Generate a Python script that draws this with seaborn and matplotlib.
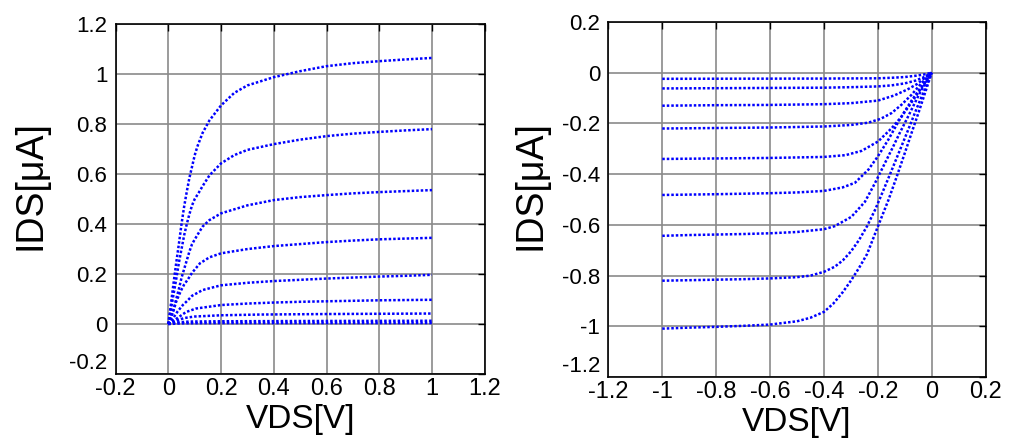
import numpy as np
import pandas as pd
import seaborn as sns
import matplotlib.pyplot as plt

# NMOS output curves (left panel), VDS [V] / IDS [uA]
n1_vds = [0, 0.01, 0.02, 0.03, 0.04, 0.05, 0.06, 0.07, 0.08, 0.09, 0.1, 0.11, 0.13, 0.156, 0.2, 0.25, 0.3, 0.4, 0.5, 0.6, 0.7, 0.8, 0.9, 1.0]
n1_ids = [0, 0.08, 0.165, 0.245, 0.32, 0.40, 0.47, 0.53, 0.585, 0.63, 0.675, 0.71, 0.765, 0.815, 0.875, 0.925, 0.955, 0.988, 1.012, 1.032, 1.044, 1.052, 1.059, 1.065]
n2_vds = [0, 0.01, 0.02, 0.03, 0.04, 0.05, 0.06, 0.07, 0.08, 0.09, 0.1, 0.115, 0.13, 0.156, 0.2, 0.25, 0.3, 0.4, 0.5, 0.6, 0.7, 0.8, 0.9, 1.0]
n2_ids = [0, 0.06, 0.12, 0.18, 0.245, 0.30, 0.355, 0.40, 0.44, 0.475, 0.50, 0.525, 0.552, 0.595, 0.643, 0.676, 0.697, 0.72, 0.738, 0.752, 0.762, 0.769, 0.775, 0.78]
n3_vds = [0, 0.01, 0.02, 0.03, 0.04, 0.05, 0.06, 0.07, 0.08, 0.09, 0.11, 0.13, 0.156, 0.2, 0.3, 0.4, 0.5, 0.6, 0.7, 0.8, 0.9, 1.0]
n3_ids = [0, 0.025, 0.06, 0.1, 0.14, 0.185, 0.22, 0.255, 0.29, 0.32, 0.356, 0.39, 0.416, 0.443, 0.475, 0.496, 0.508, 0.516, 0.523, 0.528, 0.532, 0.536]
n4_vds = [0, 0.01, 0.02, 0.03, 0.04, 0.05, 0.06, 0.075, 0.09, 0.12, 0.156, 0.2, 0.3, 0.4, 0.5, 0.6, 0.7, 0.8, 0.9, 1.0]
n4_ids = [0, 0.025, 0.055, 0.09, 0.115, 0.138, 0.158, 0.18, 0.205, 0.243, 0.267, 0.283, 0.30, 0.312, 0.32, 0.328, 0.334, 0.339, 0.342, 0.345]
n5_vds = [0, 0.01, 0.02, 0.035, 0.055, 0.075, 0.09, 0.13, 0.2, 0.3, 0.4, 0.5, 0.6, 0.7, 0.8, 0.9, 1.0]
n5_ids = [0, 0.012, 0.026, 0.05, 0.076, 0.096, 0.113, 0.136, 0.155, 0.165, 0.172, 0.177, 0.182, 0.186, 0.19, 0.193, 0.197]
n6_vds = [0, 0.01, 0.02, 0.04, 0.067, 0.105, 0.2, 0.3, 0.4, 0.5, 0.6, 0.7, 0.8, 0.9, 1.0]
n6_ids = [0, 0.006, 0.013, 0.028, 0.048, 0.062, 0.076, 0.082, 0.086, 0.089, 0.091, 0.093, 0.095, 0.096, 0.097]
n7_vds = [0, 0.01, 0.03, 0.06, 0.1, 0.2, 0.35, 0.6, 1.0]
n7_ids = [0, 0.004, 0.013, 0.024, 0.03, 0.035, 0.038, 0.04, 0.042]
n8_vds = [0, 0.01, 0.03, 0.08, 0.2, 0.5, 1.0]
n8_ids = [0, 0.002, 0.006, 0.01, 0.011, 0.012, 0.013]
n9_vds = [0, 0.02, 0.06, 0.2, 1.0]
n9_ids = [0, 0.001, 0.003, 0.004, 0.004]

# PMOS output curves (right panel)
p1_vds = [0, -0.03, -0.06, -0.1, -0.15, -0.2, -0.4, -1.0]
p1_ids = [0, -0.007, -0.012, -0.017, -0.02, -0.022, -0.023, -0.024]
p2_vds = [0, -0.03, -0.06, -0.1, -0.15, -0.2, -0.3, -0.4, -0.6, -1.0]
p2_ids = [0, -0.018, -0.031, -0.042, -0.05, -0.054, -0.057, -0.059, -0.06, -0.062]
p3_vds = [0, -0.025, -0.055, -0.09, -0.14, -0.2, -0.3, -0.4, -0.6, -0.8, -1.0]
p3_ids = [0, -0.02, -0.045, -0.066, -0.09, -0.11, -0.12, -0.124, -0.127, -0.128, -0.13]
p4_vds = [0, -0.038, -0.075, -0.112, -0.149, -0.19, -0.236, -0.3, -0.4, -0.6, -0.8, -1.0]
p4_ids = [0, -0.041, -0.087, -0.126, -0.159, -0.182, -0.197, -0.206, -0.212, -0.216, -0.218, -0.22]
p5_vds = [0, -0.026, -0.051, -0.081, -0.112, -0.149, -0.199, -0.26, -0.32, -0.4, -0.6, -0.8, -1.0]
p5_ids = [0, -0.041, -0.08, -0.126, -0.173, -0.219, -0.271, -0.308, -0.325, -0.332, -0.336, -0.338, -0.34]
p6_vds = [0, -0.02, -0.045, -0.075, -0.105, -0.13, -0.16, -0.2, -0.235, -0.285, -0.33, -0.4, -0.5, -0.6, -0.8, -1.0]
p6_ids = [0, -0.03, -0.065, -0.11, -0.16, -0.205, -0.262, -0.33, -0.382, -0.434, -0.452, -0.466, -0.472, -0.475, -0.479, -0.482]
p7_vds = [0, -0.038, -0.063, -0.094, -0.119, -0.143, -0.174, -0.211, -0.248, -0.298, -0.36, -0.4, -0.5, -0.6, -0.7, -0.8, -0.9, -1.0]
p7_ids = [0, -0.067, -0.12, -0.186, -0.238, -0.291, -0.357, -0.436, -0.509, -0.568, -0.605, -0.617, -0.628, -0.633, -0.636, -0.638, -0.64, -0.643]
p8_vds = [0, -0.03, -0.06, -0.09, -0.12, -0.15, -0.18, -0.21, -0.24, -0.27, -0.3, -0.33, -0.36, -0.4, -0.45, -0.5, -0.6, -0.7, -0.8, -0.9, -1.0]
p8_ids = [0, -0.075, -0.152, -0.232, -0.31, -0.388, -0.465, -0.54, -0.605, -0.66, -0.705, -0.74, -0.765, -0.785, -0.8, -0.806, -0.811, -0.814, -0.816, -0.818, -0.82]
p9_vds = [0, -0.025, -0.045, -0.075, -0.1, -0.13, -0.16, -0.2, -0.24, -0.27, -0.3, -0.33, -0.365, -0.4, -0.45, -0.5, -0.6, -0.7, -0.8, -0.9, -1.0]
p9_ids = [0, -0.08, -0.145, -0.238, -0.317, -0.41, -0.5, -0.607, -0.715, -0.77, -0.82, -0.865, -0.91, -0.943, -0.966, -0.98, -0.993, -0.998, -1.002, -1.005, -1.009]

left_ticks = [-0.2, 0, 0.2, 0.4, 0.6, 0.8, 1, 1.2]
right_ticks = [-1.2, -1, -0.8, -0.6, -0.4, -0.2, 0, 0.2]


def long_table(curves):
    # curves: list of (vds, ids) pairs -> one long frame with a curve id
    frames = []
    for k, (v, i) in enumerate(curves):
        frames.append(pd.DataFrame({"VDS": v, "IDS": i, "curve": k}))
    return pd.concat(frames, ignore_index=True)


nmos = long_table([(n1_vds, n1_ids), (n2_vds, n2_ids), (n3_vds, n3_ids),
                   (n4_vds, n4_ids), (n5_vds, n5_ids), (n6_vds, n6_ids),
                   (n7_vds, n7_ids), (n8_vds, n8_ids), (n9_vds, n9_ids)])
pmos = long_table([(p1_vds, p1_ids), (p2_vds, p2_ids), (p3_vds, p3_ids),
                   (p4_vds, p4_ids), (p5_vds, p5_ids), (p6_vds, p6_ids),
                   (p7_vds, p7_ids), (p8_vds, p8_ids), (p9_vds, p9_ids)])

sns.set_style("white")
plt.rcParams['font.family'] = ['Liberation Sans', 'DejaVu Sans']
plt.rcParams['text.color'] = 'black'
plt.rcParams['axes.labelcolor'] = 'black'

fig = plt.figure(figsize=(10.14, 4.4), dpi=100)
ax1 = fig.add_axes([0.114, 0.15, 0.364, 0.795])
ax2 = fig.add_axes([0.600, 0.143, 0.372, 0.807])

# (axes, data, ticks, ylabel anchor in axes coords)
panels = [(ax1, nmos, left_ticks, (-0.182, 0.54)),
          (ax2, pmos, right_ticks, (-0.158, 0.54))]

for ax, df, ticks, lab_xy in panels:
    sns.lineplot(data=df, x="VDS", y="IDS", units="curve", estimator=None,
                 color="#0000ff", linewidth=1.8, linestyle=(0, (1.0, 0.8)),
                 ax=ax, legend=False)
    ax.set_xlim(ticks[0], ticks[-1])
    ax.set_ylim(ticks[0], ticks[-1])
    ax.set_xticks(ticks)
    ax.set_yticks(ticks)
    ax.set_xticklabels([f"{t:g}" for t in ticks], fontsize=17)
    ylabels = ax.set_yticklabels([f"{t:g}" for t in ticks], fontsize=16)
    # lowest label sits above its tick, as in the original
    ylabels[0].set_verticalalignment("bottom")
    ax.grid(True, color="#8a8a8a", linewidth=1.2)
    ax.set_axisbelow(True)
    for s in ax.spines.values():
        s.set_color("black")
        s.set_linewidth(1.2)
    ax.tick_params(direction="in", top=True, right=True, length=5, width=1,
                   colors="black")
    ax.tick_params(axis="x", pad=3)
    ax.tick_params(axis="y", pad=6)
    ax.set_xlabel("VDS[V]", fontsize=24, labelpad=3)
    ax.set_ylabel("IDS[\u03bcA]", fontsize=27)
    ax.yaxis.set_label_coords(*lab_xy)

fig.savefig("out.png", dpi=100)
